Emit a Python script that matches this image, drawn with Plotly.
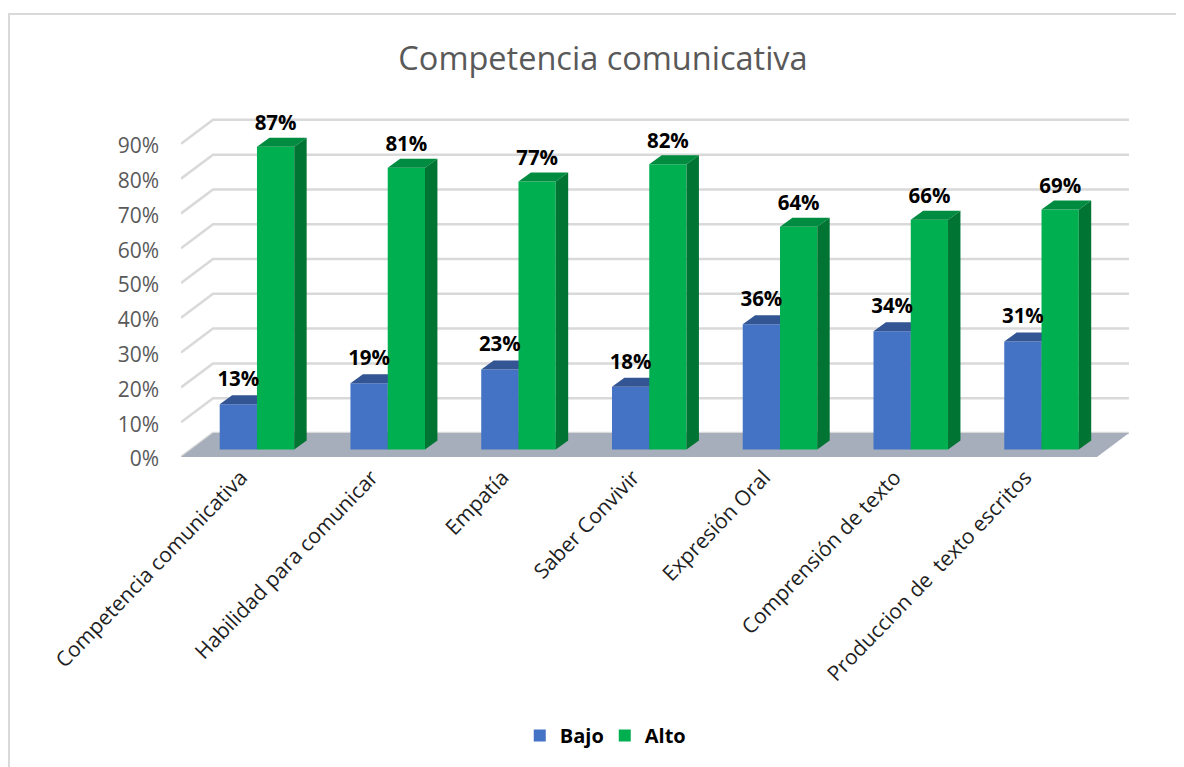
import plotly.graph_objects as go

categories = ["Competencia comunicativa", "Habilidad para comunicar", "Empatía", "Saber Convivir",
              "Expresión Oral", "Comprensión de texto", "Produccion de  texto escritos"]
bajo = [13, 19, 23, 18, 36, 34, 31]
alto = [87, 81, 77, 82, 64, 66, 69]
ytick_vals = [0, 10, 20, 30, 40, 50, 60, 70, 80, 90]

# Oblique projection parameters (data units)
WALL_DX, WALL_DY = 0.2447, 6.9
BAR_W = 0.285
BAR_DX, BAR_DY = 0.095, 2.59
BASE = 2.16
XR = [-0.581, 6.669]
YR = [0, 102.6]
FONT = "Open Sans"
GREY = "#595959"
xs = list(range(len(categories)))

fig = go.Figure()

# wall gridlines
gx, gy = [], []
for t in ytick_vals:
    gx += [XR[0], XR[0] + WALL_DX, XR[1], None]
    gy += [t, t + WALL_DY, t + WALL_DY, None]
fig.add_trace(go.Scatter(x=gx, y=gy, mode="lines", line=dict(color="#D9D9D9", width=2.5),
                         showlegend=False, hoverinfo="skip", cliponaxis=False))
# floor
fig.add_trace(go.Scatter(x=[XR[0], XR[0] + WALL_DX, XR[1], XR[1] - WALL_DX, XR[0]],
                         y=[0, WALL_DY, WALL_DY, 0, 0], mode="lines", fill="toself",
                         fillcolor="#A5AEBA", line=dict(width=0), showlegend=False,
                         hoverinfo="skip", cliponaxis=False))


def series(name, values, offset, front, top, side, layer):
    xa, ya = f"x{layer}", f"y{layer}"
    fig.add_trace(go.Bar(name=name, x=xs, y=values, base=BASE, width=BAR_W, offset=offset,
                         marker=dict(color=front, line=dict(width=0)), xaxis=xa, yaxis=ya))
    tx, ty, sx, sy = [], [], [], []
    for i, v in zip(xs, values):
        l = i + offset
        r = l + BAR_W
        h = BASE + v
        tx += [l, l + BAR_DX, r + BAR_DX, r, l, None]
        ty += [h, h + BAR_DY, h + BAR_DY, h, h, None]
        sx += [r, r + BAR_DX, r + BAR_DX, r, r, None]
        sy += [BASE, BASE + BAR_DY, h + BAR_DY, h, BASE, None]
    for px, py, c in ((tx, ty, top), (sx, sy, side)):
        fig.add_trace(go.Scatter(x=px, y=py, mode="lines", fill="toself", fillcolor=c,
                                 line=dict(width=0), showlegend=False, hoverinfo="skip",
                                 xaxis=xa, yaxis=ya))


series("Bajo", bajo, -BAR_W, "#4472C4", "#335593", "#2A4A85", 2)
series("Alto", alto, 0, "#00B050", "#008C40", "#007433", 3)

# data labels
for values, off, lift in ((bajo, -BAR_W / 2, 3.8), (alto, BAR_W / 2, 3.3)):
    fig.add_trace(go.Scatter(x=[i + off for i in xs], y=[BASE + v + lift for v in values],
                             mode="text", text=[f"{v}%" for v in values], textposition="top center",
                             textfont=dict(family=FONT, size=20.5, color="black", weight="bold"),
                             showlegend=False, hoverinfo="skip", xaxis="x3", yaxis="y3",
                             cliponaxis=False))

hidden = dict(visible=False, fixedrange=True)
fig.update_layout(
    width=1176, height=759, paper_bgcolor="white", plot_bgcolor="rgba(0,0,0,0)",
    margin=dict(l=173, r=55, t=92, b=310, autoexpand=False),
    barmode="overlay",
    title=dict(text="Competencia comunicativa", x=595 / 1176, y=1 - 51 / 759, xanchor="center",
               yanchor="middle", font=dict(family=FONT, size=32.5, color=GREY)),
    xaxis=dict(range=XR, tickmode="array", tickvals=xs, ticktext=categories, tickangle=-46,
               showgrid=False, zeroline=False, showline=False, ticks="", ticklabelstandoff=3,
               ticklabelshift=-16, tickfont=dict(family=FONT, size=21, color="#1F1F1F")),
    yaxis=dict(range=YR, tickmode="array", tickvals=ytick_vals, ticktext=[f"{t}%" for t in ytick_vals],
               showgrid=False, zeroline=False, showline=False, ticks="", ticklabelstandoff=21,
               ticklabelshift=2, tickfont=dict(family=FONT, size=21, color=GREY)),
    xaxis2=dict(range=XR, overlaying="x", **hidden),
    yaxis2=dict(range=YR, overlaying="y", **hidden),
    xaxis3=dict(range=XR, overlaying="x", **hidden),
    yaxis3=dict(range=YR, overlaying="y", **hidden),
    legend=dict(orientation="h", x=0.447, xanchor="center", y=-0.78, yanchor="middle",
                entrywidth=40, entrywidthmode="pixels",
                font=dict(family=FONT, size=20, color="black", weight="bold"), traceorder="normal"),
    shapes=[dict(type="rect", xref="paper", yref="paper", x0=(9 - 181) / 948, x1=1.4,
                 y0=-1.3, y1=(457 - 14) / 357, line=dict(color="#D9D9D9", width=2), layer="below")],
)
fig.write_html("out.html")
